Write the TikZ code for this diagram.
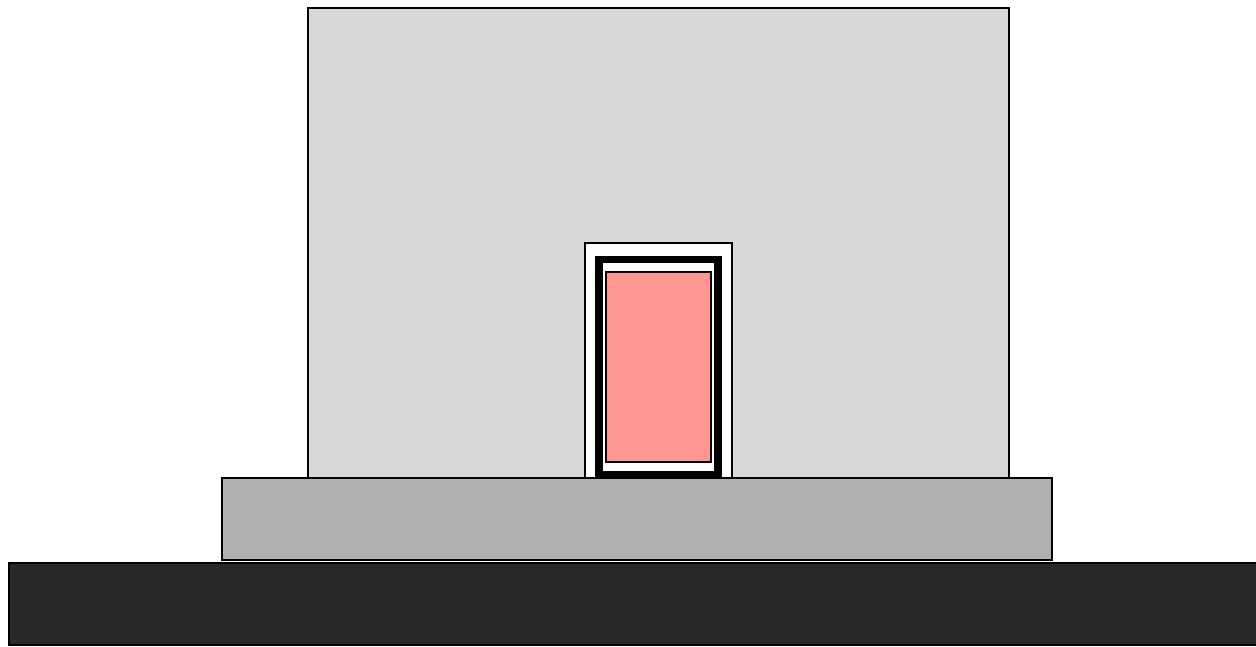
\documentclass[tikz,border=0pt]{standalone}
\definecolor{wallgray}{HTML}{D8D8D8}
\definecolor{slabgray}{HTML}{AFAFAF}
\definecolor{grounddark}{HTML}{292929}
\definecolor{doorpink}{HTML}{FF9691}
\begin{document}
\begin{tikzpicture}[x=1pt,y=-1pt,
  part/.style={draw=black,line width=2pt},
  thin/.style={draw=black,line width=1.5pt}]
\useasboundingbox (0,0) rectangle (1256,647);
\fill[white] (0,0) rectangle (1256,647);
% ground
\path[part,fill=grounddark] (9,563) rectangle (1262,645);
% wall
\path[part,fill=wallgray] (308,8) rectangle (1009,478);
% slab
\path[part,fill=slabgray] (222,478) rectangle (1052,560);
% door casing
\path[thin,fill=white] (585,243) rectangle (732,478);
\fill[black] (595,256) rectangle (722,479);
\fill[white] (603,263) rectangle (714,471);
\path[thin,fill=doorpink] (606,272) rectangle (711,462);
\end{tikzpicture}
\end{document}
